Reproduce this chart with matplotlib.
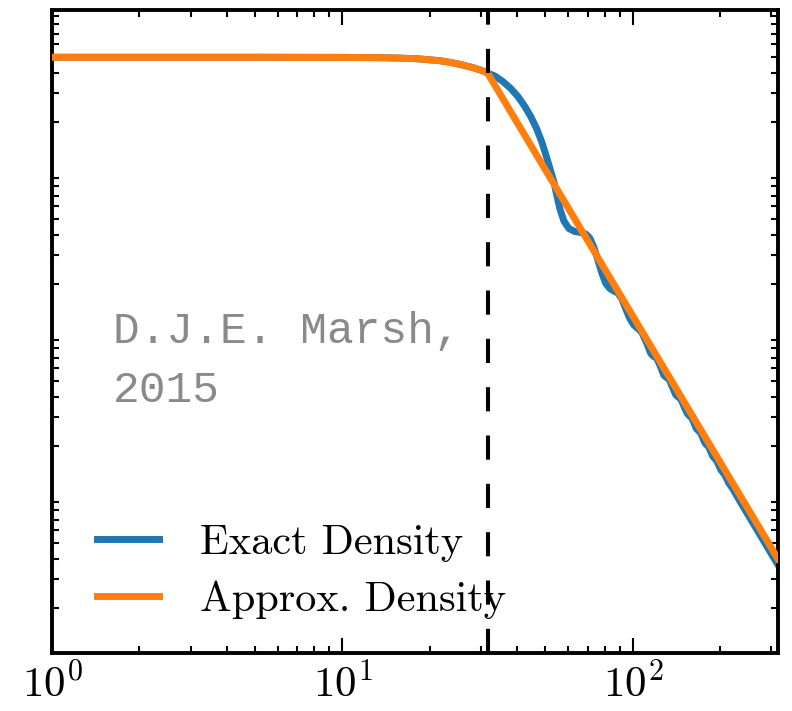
import numpy as np
import matplotlib
matplotlib.use("Agg")
import matplotlib.pyplot as plt
from matplotlib.ticker import NullFormatter, LogLocator

plt.rcParams['font.family'] = 'serif'
plt.rcParams['font.serif'] = ['cmr10', 'DejaVu Serif']
plt.rcParams['mathtext.fontset'] = 'cm'
plt.rcParams['axes.formatter.use_mathtext'] = True

# soliton core, shared by both curves up to r_c
r_core = [1, 5, 10, 13.5, 15.8, 18, 21.7, 23.5, 25.4, 28.2, 30.0, 31.6]
rho_core = [5.0, 5.0, 4.99, 4.97, 4.94, 4.90, 4.76, 4.65, 4.52, 4.31, 4.16, 4.0]

# approximate density: power law tail
r_approx_tail = [316.2]
rho_approx_tail = [0.004]

# exact density: wiggly tail
r_exact_tail = [33.5, 35.7, 38.0, 40.2, 42.5, 44.6, 46.7, 48.6, 50.2, 51.8,
                53.5, 54.7, 56.1, 57.9, 60.2, 63.1, 66.2, 68.9, 71.1, 73.4,
                75.8, 78.2, 80.7, 83.3, 86.0, 88.8, 91.7, 94.6, 97.6, 100.8,
                104.0, 107.4, 111.7, 115.3, 118.1, 120.9, 123.9, 127.9, 130.9, 133.0,
                136.2, 140.6, 143.4, 146.3, 150.4, 154.0, 157.1, 159.6, 165.4, 171.4,
                177.0, 182.7, 188.5, 194.6, 200.9, 207.4, 214.0, 220.9, 233.5, 316.2]
rho_exact_tail = [3.831, 3.54, 3.208, 2.863, 2.483, 2.139, 1.804, 1.499, 1.246, 1.036,
                  0.849, 0.706, 0.579, 0.488, 0.4385, 0.420, 0.414, 0.4055, 0.383, 0.337,
                  0.280, 0.233, 0.2007, 0.1869, 0.1804, 0.1753, 0.1610, 0.1397, 0.1220, 0.1112,
                  0.1059, 0.1000, 0.0857, 0.0741, 0.0710, 0.0695, 0.0629, 0.0544, 0.0525, 0.0522,
                  0.0469, 0.0412, 0.0399, 0.0390, 0.0346, 0.0316, 0.0304, 0.0298, 0.0255, 0.0239,
                  0.0208, 0.0196, 0.0172, 0.0161, 0.0142, 0.0132, 0.01176, 0.01084, 0.00912, 0.00367]

r_c = 31.6
labels = ['Exact Density', 'Approx. Density']

r_exact = np.array(r_core + r_exact_tail)
rho_exact = np.array(rho_core + rho_exact_tail)
r_approx = np.array(r_core + r_approx_tail)
rho_approx = np.array(rho_core + rho_approx_tail)

W, H = 792, 711
fig = plt.figure(figsize=(W / 100, H / 100), dpi=100)
ax = fig.add_axes([52 / W, 1 - 653 / H, (778 - 52) / W, (653 - 10) / H])

ax.plot(r_exact, rho_exact, color='#1f77b4', lw=5, label=labels[0],
        solid_joinstyle='round', zorder=2)
ax.plot(r_approx, rho_approx, color='#ff7f0e', lw=5, label=labels[1],
        solid_joinstyle='round', zorder=3)
ax.axvline(r_c, color='black', lw=2.9, dashes=(6, 6), zorder=4)

ax.set_xscale('log')
ax.set_yscale('log')
ax.set_xlim(1, 316.2)
ax.set_ylim(1.05e-3, 9.79)
ax.set_yticks([])
ax.yaxis.set_minor_locator(LogLocator(base=10, subs=np.arange(2, 10)))
ax.yaxis.set_minor_formatter(NullFormatter())
ax.xaxis.set_minor_formatter(NullFormatter())

for sp in ax.spines.values():
    sp.set_linewidth(2.8)
ax.tick_params(which='both', direction='in', top=True, right=True)
ax.tick_params(which='major', length=10.8, width=1.5, labelsize=31, pad=7)
ax.tick_params(which='minor', length=5, width=1.5)

leg = ax.legend(loc='lower left', bbox_to_anchor=(0.062, 0.053), frameon=False,
                fontsize=30.5, handlelength=1.46, handletextpad=0.97,
                labelspacing=0.43, borderpad=0, borderaxespad=0)

fig.text(113 / W, 1 - 343 / H, 'D.J.E. Marsh,', family='Liberation Mono',
         fontsize=32, color='#8a8a8a', va='baseline', ha='left')
fig.text(113 / W, 1 - 402 / H, '2015', family='Liberation Mono',
         fontsize=32, color='#8a8a8a', va='baseline', ha='left')

fig.savefig('out.png', dpi=100)
